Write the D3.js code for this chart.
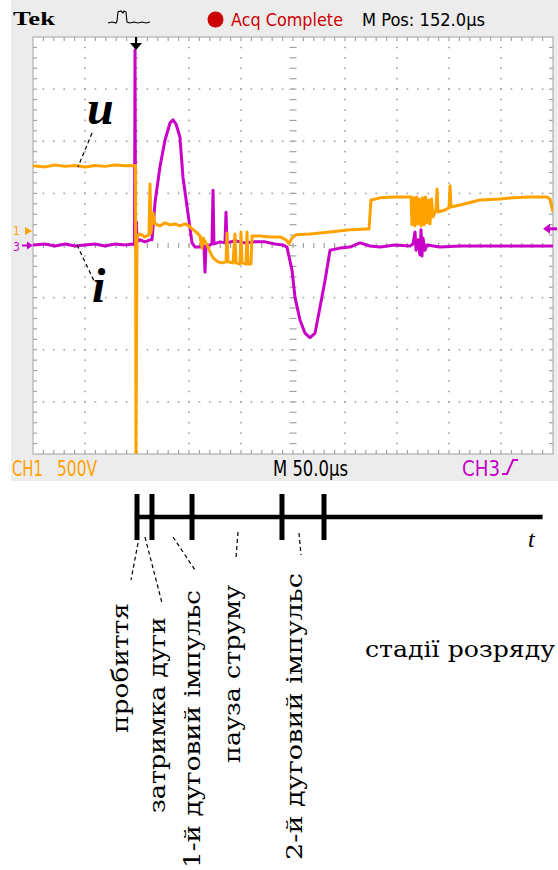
<!DOCTYPE html>
<html><head><meta charset="utf-8">
<script src="https://cdn.jsdelivr.net/npm/d3@7"></script>
<style>body{margin:0;background:#fff}svg{display:block}</style>
</head><body>
<svg id="c" width="558" height="870"></svg>
<script>
// ---------- data (time in µs, CH1 voltage in V, CH3 current in screen divisions) ----------
const uTime = [0,11.5,21.2,30.8,40.4,50,59.6,69.2,78.8,88.5,
  98.6,99,100,103,107.7,111.5,112.5,113.5,115.4,117.3,
  122.1,126.9,131.7,136.5,141.3,146.2,150,151.9,156.7,160.6,
  162.5,163.5,167.3,170.2,173.1,177.9,181.7,185.6,186.5,187.5,
  192.3,194.2,195.2,199,200,201,204.8,205.8,206.7,209.6,
  210.6,218.3,227.9,237.5,243.3,246.2,249,252.9,266.3,285.6,
  304.8,321.2,323.1,325,333.7,348.1,363.5,364.4,365.9,367.3,
  368.8,370.2,371.6,373.1,374.5,376,377.4,378.8,380.3,381.7,
  383.2,384.6,387.5,388.5,389.4,396.2,400,401,401.9,410.6,
  429.8,449,461.5,477.9,494.2,497.1,500];
const uVolt = [624,614,633,619,628,614,628,619,633,624,
  628,-2200,-48,-29,-58,-38,451,-19,173,67,
  48,77,58,67,48,67,48,29,-10,-48,
  -163,-67,-134,-201,-259,-297,-307,-297,-19,-297,
  -307,-29,-307,-317,-10,-307,-317,-10,-317,-317,
  -48,-48,-58,-58,-86,-125,-67,-38,-29,-10,
  10,19,19,297,317,326,326,58,317,48,
  326,67,307,48,317,58,326,77,297,67,
  307,134,201,403,182,201,221,432,230,249,
  297,307,317,326,326,307,182];
const iTime = [0,11.5,21.2,30.8,40.4,50,59.6,69.2,78.8,88.5,
  96.2,97.6,98.1,98.6,99.5,100,103,107.7,112.5,114.4,
  117.3,122.1,126.9,131.7,134.6,137.5,141.3,144.2,149,152.9,
  155.8,160.6,164.4,165.4,166.3,170.2,172.1,173.1,174,179.8,
  184.6,185.6,186.5,194.2,203.8,213.5,223.1,232.7,240.4,244.2,
  249,251.9,256.7,261.5,266.3,271.2,276,280.8,285.6,295.2,
  304.8,314.4,324,333.7,348.1,362.5,365.4,367.3,368.3,370.2,
  372.1,373.1,374,375,376.9,378.8,391.3,410.6,429.8,449,
  468.3,487.5,500];
const iDiv = [0.01,0.03,-0.01,0.03,-0.01,0.01,0.03,-0.01,0.03,0.01,
  0.03,0.01,3.75,0.01,0.45,0.07,0.11,0.07,0.11,0.11,
  0.82,1.51,2.02,2.35,2.41,2.33,2.08,1.31,0.62,0.05,
  -0.03,-0.03,-0.01,-0.51,-0.01,0.01,0.03,1.06,0.03,0.07,
  0.05,0.64,0.05,0.09,0.05,0.07,0.07,0.03,0.01,-0.03,
  -0.47,-0.99,-1.43,-1.68,-1.77,-1.68,-1.18,-0.67,-0.09,-0.05,
  -0.03,0.05,-0.01,-0.03,0.01,-0.01,0.03,0.26,-0.09,0.11,
  -0.18,0.30,-0.20,0.14,-0.09,0.01,-0.03,-0.01,-0.01,-0.01,
  -0.01,-0.01,-0.01];
const stageTimes = [100, 114.4, 152.9, 239.4, 279.8];
const stageLabels = ["пробиття","затримка дуги","1-й дуговий імпульс","пауза струму","2-й дуговий імпульс"];
const timeAxisRange = [98, 490];
const ch1VoltsPerDiv = 500, ch1OffsetDiv = 0.28;
const headerTexts = ["Tek", "Acq Complete", "M Pos: 152.0µs"];
const footerTexts = ["CH1", "500V", "M 50.0µs", "CH3"];

// ---------- layout ----------
const X0 = 33, X1 = 553, Y0 = 37, Y1 = 454;
const ORANGE = "#ffa200", MAGENTA = "#c800c8", RED = "#cc0000", GRID = "#a2a2a2";
const svg = d3.select("#c");
svg.append("rect").attr("width", 558).attr("height", 870).attr("fill", "#fff");
svg.append("rect").attr("x", 11).attr("y", 0).attr("width", 547).attr("height", 481).attr("fill", "#ececec");
svg.append("rect").attr("x", X0).attr("y", Y0).attr("width", X1 - X0).attr("height", Y1 - Y0).attr("fill", "#fff");

const x = d3.scaleLinear().domain([0, 500]).range([X0, X1]);
const uY = d3.scaleLinear().domain([(-4 - ch1OffsetDiv) * ch1VoltsPerDiv, (4 - ch1OffsetDiv) * ch1VoltsPerDiv]).range([Y1, Y0]);
const iY = d3.scaleLinear().domain([-4, 4]).range([Y1, Y0]);
const gx = d3.scaleLinear().domain([0, 10]).range([X0, X1]);
const gy = d3.scaleLinear().domain([0, 8]).range([Y0, Y1]);

// grid
const grid = svg.append("g");
const dots = [];
for (let k = 1; k < 10; k++) { if (k === 5) continue; for (let j = 1; j < 40; j++) dots.push([gx(k), gy(j / 5)]); }
for (let k = 1; k < 8; k++) { if (k === 4) continue; for (let j = 1; j < 50; j++) dots.push([gx(j / 5), gy(k)]); }
grid.selectAll("rect.d").data(dots).join("rect").attr("class", "d")
  .attr("x", d => d[0] - 0.8).attr("y", d => d[1] - 0.8).attr("width", 1.6).attr("height", 1.6).attr("fill", GRID);
const tk = grid.append("g").attr("stroke", GRID).attr("stroke-width", 1.2);
for (let j = 1; j < 50; j++) {
  const xx = gx(j / 5);
  tk.append("line").attr("x1", xx).attr("x2", xx).attr("y1", gy(4) - 2.5).attr("y2", gy(4) + 2.5);
  tk.append("line").attr("x1", xx).attr("x2", xx).attr("y1", Y0).attr("y2", Y0 + 4);
  tk.append("line").attr("x1", xx).attr("x2", xx).attr("y1", Y1).attr("y2", Y1 - 4);
}
for (let j = 1; j < 40; j++) {
  const yy = gy(j / 5);
  tk.append("line").attr("y1", yy).attr("y2", yy).attr("x1", gx(5) - 3.5).attr("x2", gx(5) + 3.5);
  tk.append("line").attr("y1", yy).attr("y2", yy).attr("x1", X0).attr("x2", X0 + 4);
  tk.append("line").attr("y1", yy).attr("y2", yy).attr("x1", X1).attr("x2", X1 - 4);
}
grid.append("rect").attr("x", X0).attr("y", Y0).attr("width", X1 - X0).attr("height", Y1 - Y0)
  .attr("fill", "none").attr("stroke", "#b0b0b0").attr("stroke-width", 1.2);

// traces
svg.append("clipPath").attr("id", "clip").append("rect").attr("x", X0).attr("y", Y0).attr("width", X1 - X0).attr("height", Y1 - Y0);
const iData = iTime.map((t, k) => [t, iDiv[k]]);
const uData = uTime.map((t, k) => [t, uVolt[k]]);
const traces = svg.append("g").attr("clip-path", "url(#clip)");
traces.append("path").datum(iData).attr("fill", "none").attr("stroke", MAGENTA).attr("stroke-width", 3).attr("stroke-linejoin", "round")
  .attr("d", d3.line().x(d => x(d[0])).y(d => iY(d[1])));
traces.append("path").datum(uData).attr("fill", "none").attr("stroke", ORANGE).attr("stroke-width", 3).attr("stroke-linejoin", "round")
  .attr("d", d3.line().x(d => x(d[0])).y(d => uY(d[1])));

// trigger marker (top)
const trigX = x(stageTimes[0]) - 1;
svg.append("line").attr("x1", trigX).attr("x2", trigX).attr("y1", Y0).attr("y2", Y0 + 7).attr("stroke", "#000").attr("stroke-width", 2);
svg.append("path").attr("d", `M${trigX - 6},${Y0 + 6}L${trigX + 6},${Y0 + 6}L${trigX},${Y0 + 13}Z`).attr("fill", "#000");

// ground markers
const sans = "'DejaVu Sans Condensed','Liberation Sans Narrow','Liberation Sans',Arial,sans-serif";
svg.append("text").attr("x", 13).attr("y", uY(0) + 4).attr("fill", ORANGE).attr("font-family", sans).attr("font-size", 12).text("1");
svg.append("path").attr("d", `M25,${uY(0) - 4}L32,${uY(0)}L25,${uY(0) + 4}Z`).attr("fill", ORANGE);
svg.append("text").attr("x", 13).attr("y", iY(0) + 5).attr("fill", MAGENTA).attr("font-family", sans).attr("font-size", 12).text("3");
svg.append("line").attr("x1", 22).attr("x2", 30).attr("y1", iY(0)).attr("y2", iY(0)).attr("stroke", MAGENTA).attr("stroke-width", 2);
svg.append("path").attr("d", `M27,${iY(0) - 4}L33,${iY(0)}L27,${iY(0) + 4}Z`).attr("fill", MAGENTA);
// trigger level marker (right)
const tl = iY(0.32);
svg.append("path").attr("d", `M543,${tl}L550,${tl - 5}L550,${tl + 5}Z`).attr("fill", MAGENTA);
svg.append("line").attr("x1", 549).attr("x2", 557).attr("y1", tl).attr("y2", tl).attr("stroke", MAGENTA).attr("stroke-width", 3);

// header
svg.append("text").attr("x", 13).attr("y", 25).attr("font-family", "'Liberation Serif','DejaVu Serif',serif").attr("font-weight", "bold")
  .attr("font-size", 19).attr("textLength", 42).attr("lengthAdjust", "spacingAndGlyphs").text(headerTexts[0]);
svg.append("path").attr("d", "M108,23L112,22L116,23L117,21L118,12L121,11L123,13L124,11L126,12L127,22L130,23L134,22L138,23L142,22L146,23L150,22")
  .attr("fill", "none").attr("stroke", "#000").attr("stroke-width", 1.1);
svg.append("circle").attr("cx", 215.5).attr("cy", 19.5).attr("r", 8).attr("fill", RED);
svg.append("text").attr("x", 231).attr("y", 26).attr("fill", RED).attr("font-family", sans).attr("font-size", 17)
  .attr("textLength", 112).attr("lengthAdjust", "spacingAndGlyphs").text(headerTexts[1]);
svg.append("text").attr("x", 362).attr("y", 26).attr("fill", "#000").attr("font-family", sans).attr("font-size", 17)
  .attr("textLength", 123).attr("lengthAdjust", "spacingAndGlyphs").text(headerTexts[2]);

// footer
const foot = [[footerTexts[0], 12, 31, ORANGE], [footerTexts[1], 57, 40, ORANGE], [footerTexts[2], 273, 75, "#000"], [footerTexts[3], 462, 38, MAGENTA]];
foot.forEach(f => svg.append("text").attr("x", f[1]).attr("y", 476).attr("fill", f[3]).attr("font-family", sans)
  .attr("font-size", 21).attr("textLength", f[2]).attr("lengthAdjust", "spacingAndGlyphs").text(f[0]));
svg.append("path").attr("d", "M502,474L507,474L513,460L518,460").attr("fill", "none").attr("stroke", MAGENTA).attr("stroke-width", 2);

// u / i labels
const serif = "'Liberation Serif','DejaVu Serif',serif";
svg.append("text").attr("x", 87).attr("y", 124).attr("font-family", serif).attr("font-style", "italic").attr("font-weight", "bold")
  .attr("font-size", 48).text("u");
svg.append("text").attr("x", 92).attr("y", 302).attr("font-family", serif).attr("font-style", "italic").attr("font-weight", "bold")
  .attr("font-size", 48).text("i");
const dash = "4,3";
[[92, 133, 78, 167], [77, 245, 95, 283]].forEach(l => svg.append("line").attr("x1", l[0]).attr("y1", l[1]).attr("x2", l[2]).attr("y2", l[3])
  .attr("stroke", "#000").attr("stroke-width", 1.2).attr("stroke-dasharray", dash));

// timeline
const TY = 517;
svg.append("line").attr("x1", x(timeAxisRange[0])).attr("x2", x(timeAxisRange[1])).attr("y1", TY).attr("y2", TY)
  .attr("stroke", "#000").attr("stroke-width", 4.5);
svg.selectAll("line.st").data(stageTimes).join("line").attr("class", "st")
  .attr("x1", d => x(d)).attr("x2", d => x(d)).attr("y1", 494).attr("y2", 540).attr("stroke", "#000").attr("stroke-width", 5);
svg.append("text").attr("x", 528).attr("y", 547).attr("font-family", serif).attr("font-style", "italic").attr("font-size", 24).text("t");

const leaders = [[138, 543, 131, 580], [145, 537, 162, 603], [173, 537, 195, 570], [238, 532, 236, 558], [299, 533, 301, 555]];
leaders.forEach(l => svg.append("line").attr("x1", l[0]).attr("y1", l[1]).attr("x2", l[2]).attr("y2", l[3])
  .attr("stroke", "#000").attr("stroke-width", 1.2).attr("stroke-dasharray", dash));

// stage labels: [baseline x, start y, length]
const lblFont = "'DejaVu Serif','Liberation Serif',serif";
const labelPos = [[128, 733, 130], [165, 813, 196], [200, 868, 278], [240, 763, 178], [302, 860, 287]];
stageLabels.forEach((s, k) => svg.append("text").attr("transform", `translate(${labelPos[k][0]},${labelPos[k][1]}) rotate(-90)`)
  .attr("font-family", lblFont).attr("font-size", 23).attr("fill", "#000")
  .attr("textLength", labelPos[k][2]).attr("lengthAdjust", "spacingAndGlyphs").text(s));
svg.append("text").attr("x", 365).attr("y", 657).attr("font-family", lblFont).attr("font-size", 23)
  .attr("textLength", 190).attr("lengthAdjust", "spacingAndGlyphs").text("стадії розряду");
</script>
</body></html>
